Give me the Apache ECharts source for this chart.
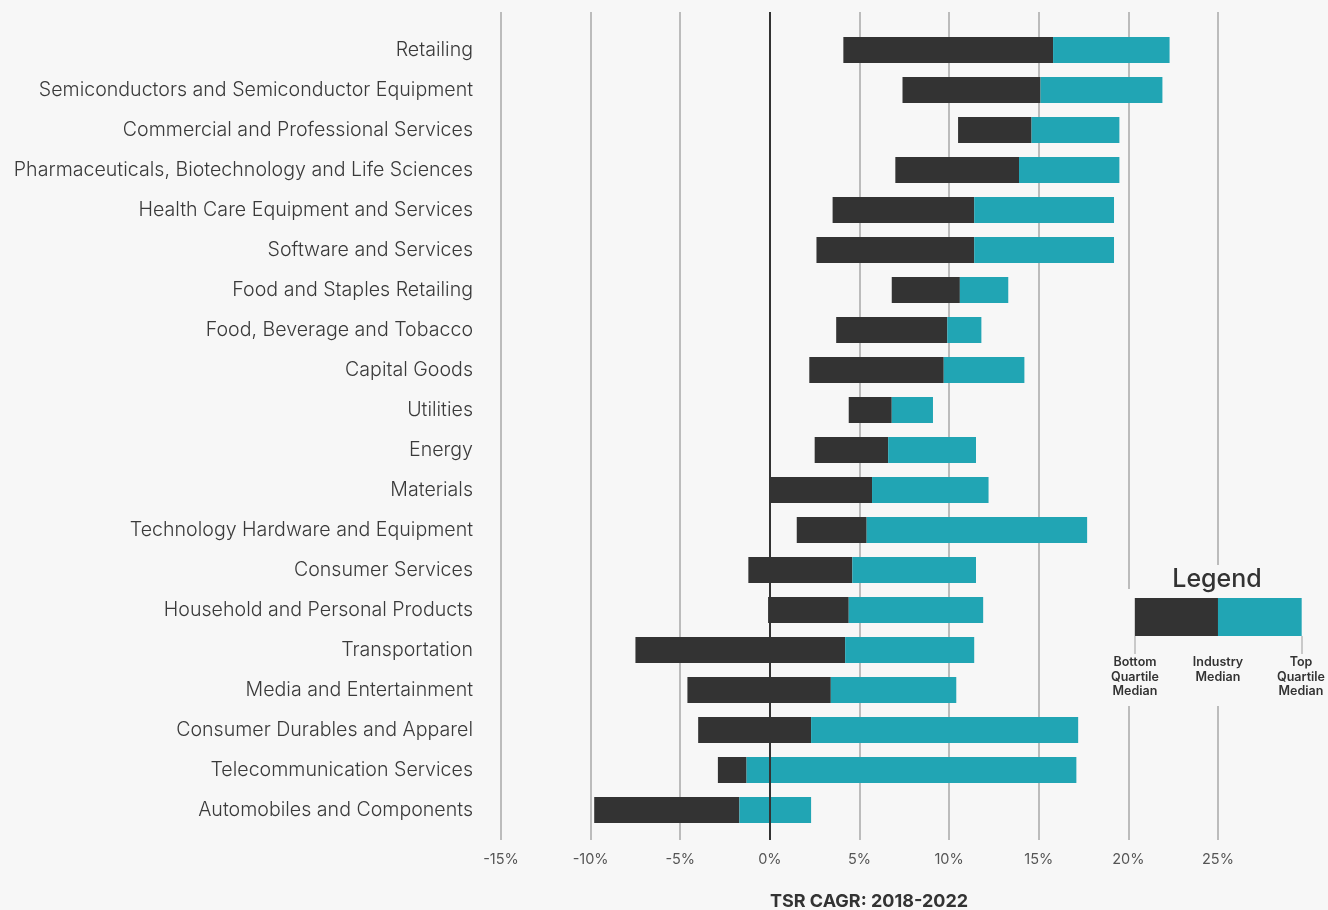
<!DOCTYPE html>
<html>
<head>
<meta charset="utf-8">
<script src="https://cdn.jsdelivr.net/npm/echarts@6/dist/echarts.min.js"></script>
<style>
  html, body { margin: 0; padding: 0; background: #f7f7f7; }
  #main { width: 1328px; height: 910px; }
</style>
</head>
<body>
<div id="main"></div>
<script>
const categories = [
  'Retailing',
  'Semiconductors and Semiconductor Equipment',
  'Commercial and Professional Services',
  'Pharmaceuticals, Biotechnology and Life Sciences',
  'Health Care Equipment and Services',
  'Software and Services',
  'Food and Staples Retailing',
  'Food, Beverage and Tobacco',
  'Capital Goods',
  'Utilities',
  'Energy',
  'Materials',
  'Technology Hardware and Equipment',
  'Consumer Services',
  'Household and Personal Products',
  'Transportation',
  'Media and Entertainment',
  'Consumer Durables and Apparel',
  'Telecommunication Services',
  'Automobiles and Components'
];
const bottomQuartile = [4.1, 7.4, 10.5, 7.0, 3.5, 2.6, 6.8, 3.7, 2.2, 4.4, 2.5, 0.0, 1.5, -1.2, -0.1, -7.5, -4.6, -4.0, -2.9, -9.8];
const industryMedian = [15.8, 15.1, 14.6, 13.9, 11.4, 11.4, 10.6, 9.9, 9.7, 6.8, 6.6, 5.7, 5.4, 4.6, 4.4, 4.2, 3.4, 2.3, -1.3, -1.7];
const topQuartile = [22.3, 21.9, 19.5, 19.5, 19.2, 19.2, 13.3, 11.8, 14.2, 9.1, 11.5, 12.2, 17.7, 11.5, 11.9, 11.4, 10.4, 17.2, 17.1, 2.3];
const xTicks = [-15, -10, -5, 0, 5, 10, 15, 20, 25];
// legend key: bottom quartile / median / top quartile on the same scale
const legendKey = [20.36, 25, 29.67];

const DARK = '#333333';
const TEAL = '#21a5b4';
const BG = '#f7f7f7';
const FONT = 'Inter, "Noto Sans", sans-serif';

function rangeItem(color, h) {
  return function (params, api) {
    const c = api.value(0);
    const s = api.coord([api.value(1), c]);
    const e = api.coord([api.value(2), c]);
    const hh = h || api.size([0, 1])[1];
    return {
      type: 'rect',
      shape: { x: s[0], y: s[1] - hh / 2, width: e[0] - s[0], height: hh },
      style: { fill: color }
    };
  };
}

const darkData = categories.map((c, i) => [i, bottomQuartile[i], industryMedian[i]]);
const tealData = categories.map((c, i) => [i, industryMedian[i], topQuartile[i]]);

const xBase = { min: -15, max: 30, interval: 5 };

var chartDom = document.getElementById('main');
var myChart = echarts.init(chartDom);
myChart.setOption({
  backgroundColor: BG,
  animation: false,
  textStyle: { fontFamily: FONT },
  grid: [
    { left: 501, right: 20.4, top: 12, bottom: 70 },
    { left: 501, right: 20.4, top: 30, bottom: 80 },
    { left: 501, right: 20.4, top: 598, height: 38 }
  ],
  xAxis: [
    Object.assign({
      gridIndex: 0, type: 'value',
      axisLine: { show: false }, axisTick: { show: false },
      axisLabel: {
        color: '#555', fontSize: 14.5, margin: 12, fontFamily: FONT,
        formatter: v => xTicks.indexOf(v) >= 0 ? v + '%' : ''
      },
      splitLine: { show: true, showMaxLine: false, lineStyle: { color: '#a9a9a9', width: 1.5 } }
    }, xBase),
    Object.assign({ gridIndex: 1, type: 'value', show: false, splitLine: { show: false } }, xBase),
    Object.assign({ gridIndex: 2, type: 'value', show: false, splitLine: { show: false } }, xBase)
  ],
  yAxis: [
    { gridIndex: 0, type: 'value', show: false, min: 0, max: 1, splitLine: { show: false } },
    {
      gridIndex: 1, type: 'category', data: categories, inverse: true,
      axisLine: { show: false }, axisTick: { show: false },
      axisLabel: { color: '#3a3a3a', fontSize: 19.6, fontWeight: 300, margin: 28, padding: [5, 0, 0, 0], lineHeight: 24, verticalAlign: 'middle', fontFamily: FONT }
    },
    { gridIndex: 2, type: 'category', data: ['key'], show: false }
  ],
  graphic: [
    // mask gridlines behind the legend box
    { type: 'rect', z: 1, shape: { x: 1095, y: 589, width: 233, height: 117 }, style: { fill: BG } },
    { type: 'rect', z: 1, shape: { x: 1160, y: 565, width: 115, height: 30 }, style: { fill: BG } },
    { type: 'text', z: 5, x: 1217, y: 579, style: { text: 'Legend', font: '500 25px ' + FONT, fill: '#333', align: 'center', verticalAlign: 'middle' } },
    { type: 'line', z: 5, shape: { x1: 1135, y1: 636, x2: 1135, y2: 654 }, style: { stroke: '#aaa', lineWidth: 1.2 } },
    { type: 'line', z: 5, shape: { x1: 1302, y1: 636, x2: 1302, y2: 654 }, style: { stroke: '#aaa', lineWidth: 1.2 } },
    { type: 'text', z: 5, x: 1135, y: 655, style: { text: 'Bottom\nQuartile\nMedian', font: '600 12.5px ' + FONT, lineHeight: 14.5, fill: '#333', align: 'center' } },
    { type: 'text', z: 5, x: 1218, y: 655, style: { text: 'Industry\nMedian', font: '600 12.5px ' + FONT, lineHeight: 14.5, fill: '#333', align: 'center' } },
    { type: 'text', z: 5, x: 1301, y: 655, style: { text: 'Top\nQuartile\nMedian', font: '600 12.5px ' + FONT, lineHeight: 14.5, fill: '#333', align: 'center' } },
    { type: 'text', z: 5, x: 869, y: 902, style: { text: 'TSR CAGR: 2018-2022', font: 'bold 18px ' + FONT, fill: '#333', align: 'center', verticalAlign: 'middle' } }
  ],
  series: [
    {
      // zero reference line
      type: 'scatter', xAxisIndex: 0, yAxisIndex: 0, symbolSize: 0, data: [[0, 0]], z: 1,
      markLine: {
        silent: true, symbol: 'none', label: { show: false },
        lineStyle: { color: '#333', width: 2, type: 'solid' },
        data: [{ xAxis: 0 }]
      }
    },
    {
      type: 'custom', xAxisIndex: 1, yAxisIndex: 1, z: 3,
      renderItem: rangeItem(DARK, 26),
      encode: { x: [1, 2], y: 0 },
      data: darkData
    },
    {
      type: 'custom', xAxisIndex: 1, yAxisIndex: 1, z: 3,
      renderItem: rangeItem(TEAL, 26),
      encode: { x: [1, 2], y: 0 },
      data: tealData
    },
    {
      type: 'custom', xAxisIndex: 2, yAxisIndex: 2, z: 4,
      renderItem: rangeItem(DARK),
      encode: { x: [1, 2], y: 0 },
      data: [[0, legendKey[0], legendKey[1]]]
    },
    {
      type: 'custom', xAxisIndex: 2, yAxisIndex: 2, z: 4,
      renderItem: rangeItem(TEAL),
      encode: { x: [1, 2], y: 0 },
      data: [[0, legendKey[1], legendKey[2]]]
    }
  ]
});
window.onresize = () => { myChart.resize(); };
</script>
</body>
</html>
